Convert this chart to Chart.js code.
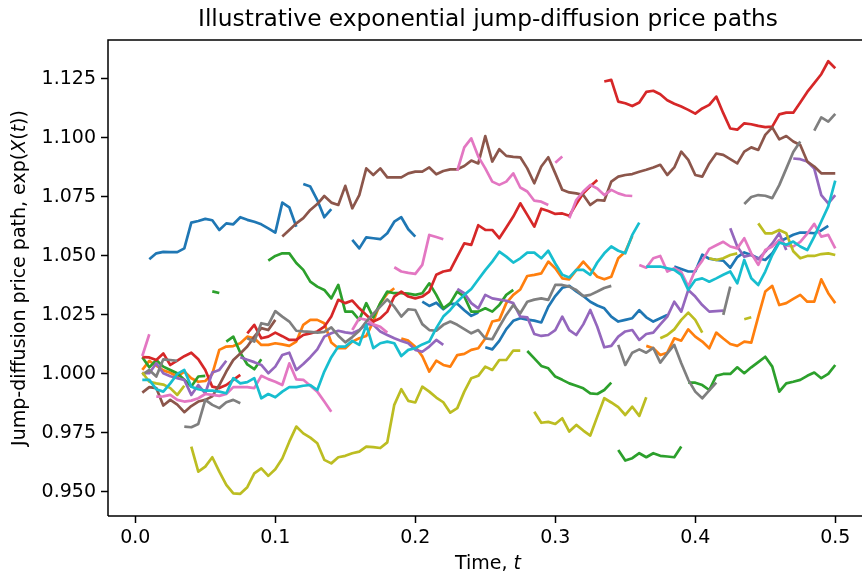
<!DOCTYPE html>
<html>
<head>
<meta charset="utf-8">
<script src="https://cdn.jsdelivr.net/npm/chart.js@4/dist/chart.umd.min.js"></script>
<style>
  html, body { margin: 0; padding: 0; background: #ffffff; overflow: hidden; }
  canvas { display: block; }
</style>
</head>
<body>
<canvas id="chart" width="862" height="579"></canvas>
<script>
// Simulated exponential jump-diffusion paths, sampled every DT on t = 0.005 ... 0.5.
// Each path has one value per step; a path is split into segments at its jumps,
// and *Breaks lists the step index (1-based) where each new segment begins.
const TITLE = 'Illustrative exponential jump-diffusion price paths';
const X_LABEL = [['Time, ', false], ['t', true]];
const Y_LABEL = [['Jump-diffusion price path, exp(', false], ['X', true], ['(', false], ['t', true], ['))', false]];
const DT = 0.005;
const xTicks = [0.0, 0.1, 0.2, 0.3, 0.4, 0.5];
const yTicks = [0.950, 0.975, 1.000, 1.025, 1.050, 1.075, 1.100, 1.125];

const path1 = [
  null, 1.0486, 1.0511, 1.0517, 1.0516, 1.0516, 1.0532, 1.0641, 1.0648, 1.0657,
  1.0651, 1.0610, 1.0638, 1.0634, 1.0664, 1.0653, 1.0645, 1.0634, 1.0617, 1.0599,
  1.0726, 1.0706, 1.0624, 1.0805, 1.0794, 1.0737, 1.0664, 1.0698, null, null,
  1.0568, 1.0532, 1.0579, 1.0575, 1.0571, 1.0596, 1.0645, 1.0664, 1.0613, 1.0582,
  1.0306, 1.0288, 1.0302, 1.0274, 1.0297, 1.0297, 1.0270, 1.0246, 1.0260, 1.0113,
  1.0104, 1.0140, 1.0190, 1.0225, 1.0236, 1.0230, 1.0226, 1.0218, 1.0285, 1.0330,
  1.0365, 1.0373, 1.0350, 1.0330, 1.0306, 1.0290, 1.0278, 1.0243, 1.0222, 1.0229,
  1.0236, 1.0270, 1.0240, 1.0222, 1.0236, 1.0250, 1.0455, 1.0445, 1.0434, 1.0434,
  1.0505, 1.0488, 1.0483, 1.0480, 1.0450, 1.0495, 1.0515, 1.0504, 1.0490, 1.0483,
  1.0511, 1.0560, 1.0575, 1.0590, 1.0599, 1.0599, 1.0596, 1.0608, 1.0627, null
];
const path1Breaks = [24, 31, 41, 50, 77];

const path2 = [
  1.0017, 1.0055, 1.0035, 1.0015, 1.0005, 0.9989, 1.0010, 0.9982, 0.9967, 0.9970,
  1.0000, 1.0102, 1.0116, 1.0118, 1.0130, 1.0158, 1.0151, 1.0123, 1.0123, 1.0130,
  1.0125, 1.0119, 1.0137, 1.0208, 1.0229, 1.0229, 1.0215, 1.0133, 1.0109, 1.0109,
  1.0137, 1.0151, 1.0161, 1.0222, 1.0300, 1.0340, 1.0363, 1.0150, 1.0141, 1.0115,
  1.0075, 1.0010, 1.0056, 1.0038, 1.0031, 1.0080, 1.0085, 1.0102, 1.0109, 1.0150,
  1.0222, 1.0229, 1.0300, 1.0335, 1.0358, 1.0415, 1.0420, 1.0426, 1.0476, 1.0448,
  1.0405, 1.0401, 1.0440, 1.0476, 1.0443, 1.0412, 1.0401, 1.0412, 1.0490, 1.0518,
  1.0585, null, 1.0119, 1.0109, 1.0080, 1.0090, 1.0151, 1.0141, 1.0189, 1.0158,
  1.0137, 1.0109, 1.0175, 1.0150, 1.0127, 1.0119, 1.0137, 1.0133, 1.0243, 1.0349,
  1.0373, 1.0292, 1.0300, 1.0318, 1.0335, 1.0306, 1.0306, 1.0401, 1.0342, 1.0300
];
const path2Breaks = [38, 73];

const path3 = [
  1.0071, 1.0028, 1.0059, 1.0031, 1.0017, 1.0003, 0.9975, 0.9947, 0.9989, 0.9992,
  1.0350, 1.0343, 1.0137, 1.0158, 1.0090, 1.0040, 1.0020, 1.0062, 1.0480, 1.0500,
  1.0511, 1.0511, 1.0470, 1.0441, 1.0391, 1.0370, 1.0356, 1.0320, 1.0377, 1.0264,
  1.0264, 1.0229, 1.0300, 1.0240, 1.0300, 1.0349, 1.0342, 1.0342, 1.0340, 1.0335,
  1.0342, 1.0384, 1.0335, 1.0278, 1.0300, 1.0349, 1.0328, 1.0264, 1.0264, 1.0278,
  1.0264, 1.0292, 1.0335, 1.0356, null, 1.0097, 1.0066, 1.0034, 1.0024, 0.9989,
  0.9975, 0.9960, 0.9950, 0.9939, 0.9918, 0.9915, 0.9932, 0.9963, 0.9678, 0.9633,
  0.9643, 0.9664, 0.9647, 0.9664, 0.9653, 0.9650, 0.9647, 0.9692, 0.9963, 0.9963,
  0.9953, 0.9932, 0.9992, 1.0000, 1.0000, 1.0028, 1.0003, 1.0028, 1.0050, 1.0073,
  1.0031, 0.9925, 0.9960, 0.9967, 0.9975, 0.9992, 1.0006, 0.9982, 1.0000, 1.0038
];
const path3Breaks = [11, 13, 19, 56, 69, 79];

const path4 = [
  1.0071, 1.0070, 1.0059, 1.0087, 1.0038, 1.0056, 1.0075, 1.0090, 1.0062, 1.0017,
  0.9946, 0.9940, 0.9953, 0.9975, 0.9996, 1.0172, 1.0208, 1.0151, 1.0158, 1.0175,
  1.0160, 1.0144, 1.0144, 1.0165, 1.0172, 1.0180, 1.0200, 1.0243, 1.0314, 1.0300,
  1.0311, 1.0278, 1.0250, 1.0222, 1.0236, 1.0264, 1.0328, 1.0349, 1.0328, 1.0320,
  1.0328, 1.0349, 1.0420, 1.0434, 1.0440, 1.0497, 1.0553, 1.0547, 1.0630, 1.0610,
  1.0610, 1.0575, 1.0620, 1.0667, 1.0723, 1.0674, 1.0624, 1.0700, 1.0690, 1.0678,
  1.0680, 1.0670, 1.0720, 1.0766, 1.0795, 1.0822, 1.1239, 1.1246, 1.1154, 1.1147,
  1.1135, 1.1150, 1.1195, 1.1200, 1.1185, 1.1160, 1.1145, 1.1133, 1.1119, 1.1103,
  1.1125, 1.1140, 1.1175, 1.1105, 1.1040, 1.1035, 1.1062, 1.1058, 1.1051, 1.1046,
  1.1048, 1.1100, 1.1107, 1.1107, 1.1150, 1.1195, 1.1232, 1.1270, 1.1325, 1.1295
];
const path4Breaks = [16, 67];

const path5 = [
  1.0003, 1.0003, 1.0045, 1.0003, 0.9990, 0.9982, 0.9975, 0.9911, 0.9953, 0.9918,
  1.0006, 1.0017, 1.0056, null, 1.0071, 1.0060, 1.0050, 1.0038, 1.0003, 1.0031,
  1.0080, 1.0090, 1.0017, 1.0042, 1.0071, 1.0104, 1.0158, 1.0172, 1.0183, 1.0176,
  1.0172, 1.0186, 1.0212, 1.0208, 1.0180, 1.0165, 1.0151, 1.0140, 1.0130, 1.0102,
  1.0094, 1.0116, 1.0144, 1.0123, null, 1.0360, 1.0342, 1.0300, 1.0278, 1.0335,
  1.0320, 1.0315, 1.0310, 1.0300, 1.0243, 1.0240, 1.0169, 1.0161, 1.0165, 1.0186,
  1.0243, 1.0186, 1.0165, 1.0210, 1.0271, 1.0200, 1.0113, 1.0119, 1.0158, 1.0180,
  1.0186, 1.0144, 1.0169, 1.0175, 1.0210, 1.0243, 1.0306, 1.0264, 1.0356, 1.0328,
  1.0292, 1.0264, 1.0266, 1.0268, 1.0617, 1.0540, 1.0497, 1.0504, 1.0486, 1.0518,
  1.0553, 1.0596, 1.0525, 1.0913, 1.0910, 1.0900, 1.0870, 1.0758, 1.0723, 1.0758
];
const path5Breaks = [15, 46, 85, 94];

const path6 = [
  0.9921, 0.9944, 0.9940, 0.9866, 0.9890, 0.9870, 0.9838, 0.9864, 0.9883, 0.9890,
  0.9905, 0.9953, 1.0010, 1.0059, 1.0087, 1.0116, 1.0158, 1.0194, 1.0186, 1.0229,
  1.0582, 1.0610, 1.0638, 1.0660, 1.0695, 1.0720, 1.0754, 1.0726, 1.0716, 1.0797,
  1.0702, 1.0758, 1.0871, 1.0843, 1.0871, 1.0833, 1.0833, 1.0833, 1.0850, 1.0857,
  1.0857, 1.0875, 1.0846, 1.0860, 1.0867, 1.0867, 1.0881, 1.0904, 1.0892, 1.1008,
  1.0900, 1.0952, 1.0924, 1.0920, 1.0918, 1.0871, 1.0808, 1.0879, 1.0918, 1.0850,
  1.0780, 1.0769, 1.0765, 1.0758, 1.0716, 1.0737, 1.0734, 1.0815, 1.0836, 1.0843,
  1.0847, 1.0857, 1.0865, 1.0875, 1.0886, 1.0843, 1.0875, 1.0942, 1.0907, 1.0843,
  1.0836, 1.0892, 1.0934, 1.0928, 1.0910, 1.0892, 1.0942, 1.0960, 1.0949, 1.1013,
  1.1045, 1.0994, 1.1008, 1.0985, 1.0970, 1.0900, 1.0879, 1.0850, 1.0850, 1.0850
];
const path6Breaks = [21];

const path7 = [
  1.0076, 1.0168, 0.9904, 0.9905, 0.9911, 0.9890, 0.9883, 0.9887, 0.9897, 0.9915,
  0.9911, 0.9907, 0.9915, 0.9944, 0.9944, 0.9944, 0.9940, 0.9992, 0.9978, 0.9967,
  0.9953, 1.0045, 0.9977, 0.9975, 0.9950, 0.9925, 0.9883, 0.9840, null, null,
  1.0186, 1.0236, 1.0229, 1.0210, 1.0200, 1.0175, 1.0452, 1.0434, 1.0428, 1.0424,
  1.0462, 1.0589, 1.0580, 1.0571, null, 1.0861, 1.0960, 1.0998, 1.0921, 1.0871,
  1.0815, 1.0801, 1.0815, 1.0850, 1.0790, 1.0773, 1.0734, 1.0730, 1.0716, 1.0895,
  1.0921, 1.0660, 1.0737, 1.0773, 1.0801, 1.0786, 1.0758, 1.0780, 1.0765, 1.0756,
  1.0754, 1.0462, 1.0450, 1.0490, 1.0500, 1.0434, 1.0448, 1.0432, 1.0370, 1.0440,
  1.0480, 1.0530, 1.0545, 1.0560, 1.0540, 1.0532, 1.0575, 1.0511, 1.0462, 1.0525,
  1.0540, 1.0568, 1.0545, 1.0540, 1.0560, 1.0595, 1.0636, 1.0582, 1.0589, 1.0532
];
const path7Breaks = [3, 31, 37, 46, 60, 62, 72];

const path8 = [
  0.9996, 1.0017, 0.9989, 1.0062, 1.0059, 1.0055, 0.9777, 0.9774, 0.9788, 0.9890,
  0.9869, 0.9855, 0.9880, 0.9890, 0.9876, 1.0151, 1.0137, 1.0215, 1.0208, 1.0266,
  1.0243, 1.0222, 1.0183, 1.0180, 1.0178, 1.0175, 1.0178, 1.0197, 1.0162, 1.0134,
  1.0156, 1.0183, 1.0222, 1.0255, 1.0285, 1.0316, 1.0285, 1.0243, 1.0274, 1.0271,
  1.0211, 1.0186, 1.0183, 1.0208, 1.0222, 1.0208, 1.0190, 1.0172, 1.0186, 1.0151,
  1.0147, 1.0200, 1.0250, 1.0292, 1.0257, 1.0306, 1.0315, 1.0320, 1.0314, 1.0377,
  1.0377, 1.0370, 1.0356, 1.0330, 1.0335, 1.0349, 1.0364, 1.0373, 1.0123, 1.0038,
  1.0090, 1.0104, 1.0090, 1.0110, 1.0048, 1.0087, 1.0123, 1.0045, 0.9975, 0.9925,
  0.9897, 0.9930, 0.9963, 1.0250, 1.0370, null, 1.0720, 1.0750, 1.0758, 1.0755,
  1.0745, 1.0800, 1.0870, 1.0940, 1.0985, null, 1.1031, 1.1087, 1.1069, 1.1102
];
const path8Breaks = [7, 16, 69, 84, 87, 97];

const path9 = [
  1.0006, 0.9967, 0.9960, 0.9955, 0.9940, 0.9911, 0.9950, 0.9692, 0.9586, 0.9607,
  0.9647, 0.9586, 0.9530, 0.9494, 0.9492, 0.9520, 0.9579, 0.9600, 0.9568, 0.9596,
  0.9642, 0.9713, 0.9777, 0.9748, 0.9730, 0.9706, 0.9636, 0.9621, 0.9647, 0.9653,
  0.9664, 0.9671, 0.9692, 0.9690, 0.9686, 0.9710, 0.9869, 0.9935, 0.9886, 0.9879,
  0.9946, 0.9925, 0.9900, 0.9880, 0.9836, 0.9855, 0.9925, 0.9982, 0.9992, 1.0031,
  1.0017, 1.0059, 1.0059, 1.0099, 1.0099, null, 0.9840, 0.9793, 0.9797, 0.9788,
  0.9812, 0.9756, 0.9784, 0.9760, 0.9739, 0.9819, 0.9897, 0.9879, 0.9859, 0.9826,
  0.9861, 0.9822, 0.9901, null, 1.0151, 1.0165, 1.0189, 1.0229, 1.0260, 1.0229,
  1.0175, 1.0490, 1.0483, 1.0490, 1.0504, 1.0511, 1.0232, 1.0240, 1.0638, 1.0596,
  1.0596, 1.0610, 1.0596, 1.0520, 1.0490, 1.0500, 1.0500, 1.0508, 1.0511, 1.0504
];
const path9Breaks = [8, 57, 75, 82, 87, 89];

const path10 = [
  0.9975, 0.9975, 0.9935, 0.9925, 0.9960, 1.0000, 1.0017, 0.9946, 0.9935, 0.9929,
  0.9929, 0.9925, 0.9918, 0.9982, 0.9960, 0.9965, 0.9982, 0.9897, 0.9915, 0.9901,
  0.9925, 0.9944, 0.9944, 0.9950, 0.9953, 0.9932, 1.0010, 1.0071, 1.0116, 1.0116,
  1.0140, 1.0123, 1.0208, 1.0109, 1.0130, 1.0137, 1.0130, 1.0076, 1.0102, 1.0109,
  1.0125, 1.0137, 1.0194, 1.0243, 1.0271, 1.0306, 1.0335, 1.0360, 1.0400, 1.0440,
  1.0476, 1.0518, 1.0497, 1.0472, 1.0490, 1.0514, 1.0514, 1.0490, 1.0522, 1.0468,
  1.0420, 1.0409, 1.0441, 1.0441, 1.0420, 1.0472, 1.0511, 1.0540, 1.0522, 1.0511,
  1.0589, 1.0641, 1.0455, 1.0455, 1.0455, 1.0448, 1.0441, 1.0420, 1.0356, 1.0398,
  1.0405, 1.0391, 1.0405, 1.0420, 1.0434, 1.0384, 1.0483, 1.0405, 1.0377, 1.0434,
  1.0504, 1.0557, 1.0547, 1.0561, 1.0540, 1.0525, 1.0582, 1.0646, 1.0710, 1.0819
];
const path10Breaks = [73];

const pathValues = [path1, path2, path3, path4, path5, path6, path7, path8, path9, path10];
const pathBreaks = [path1Breaks, path2Breaks, path3Breaks, path4Breaks, path5Breaks,
                    path6Breaks, path7Breaks, path8Breaks, path9Breaks, path10Breaks];
const palette = ['#1f77b4', '#ff7f0e', '#2ca02c', '#d62728', '#9467bd',
                 '#8c564b', '#e377c2', '#7f7f7f', '#bcbd22', '#17becf'];

// Turn one path into {x, y} points; a null point half a step before each
// segment start keeps the line from bridging the jump.
function toPoints(values, breaks) {
  const pts = [];
  values.forEach((v, k) => {
    const i = k + 1;
    if (breaks.includes(i)) pts.push({ x: (i - 0.5) * DT, y: null });
    pts.push({ x: i * DT, y: v });
  });
  return pts;
}

const FONT = '"DejaVu Sans", "Liberation Sans", sans-serif';

// Draw a run of text pieces, some in italic, centred on (x, y).
function drawRich(ctx, parts, x, y, size, angle) {
  ctx.save();
  ctx.translate(x, y);
  ctx.rotate(angle);
  ctx.textBaseline = 'middle';
  ctx.textAlign = 'left';
  ctx.fillStyle = '#000';
  const fonts = parts.map(p => (p[1] ? 'italic ' : '') + size + 'px ' + FONT);
  let total = 0;
  const widths = parts.map((p, k) => { ctx.font = fonts[k]; const w = ctx.measureText(p[0]).width; total += w; return w; });
  let cx = -total / 2;
  parts.forEach((p, k) => { ctx.font = fonts[k]; ctx.fillText(p[0], cx, 0); cx += widths[k]; });
  ctx.restore();
}

const framePlugin = {
  id: 'frame',
  afterDraw(chart) {
    const { ctx, chartArea: a } = chart;
    ctx.save();
    ctx.strokeStyle = '#000';
    ctx.lineWidth = 1.5;
    ctx.beginPath();
    ctx.moveTo(a.left, a.bottom);
    ctx.lineTo(a.left, a.top);
    ctx.lineTo(a.right + 2, a.top);
    ctx.moveTo(a.left, a.bottom);
    ctx.lineTo(a.right + 2, a.bottom);
    ctx.stroke();
    ctx.restore();
    const midX = 488;
    ctx.save();
    ctx.font = '23.3px ' + FONT;
    ctx.fillStyle = '#000';
    ctx.textAlign = 'center';
    ctx.textBaseline = 'middle';
    ctx.fillText(TITLE, midX, 20);
    ctx.restore();
    drawRich(ctx, X_LABEL, midX, 564, 19, 0);
    drawRich(ctx, Y_LABEL, 20, (a.top + a.bottom) / 2, 19, -Math.PI / 2);
  }
};

const datasets = pathValues.map((vals, k) => ({
  label: 'path ' + (k + 1),
  data: toPoints(vals, pathBreaks[k]),
  borderColor: palette[k],
  backgroundColor: palette[k],
  borderWidth: 2.7,
  borderJoinStyle: 'round',
  borderCapStyle: 'butt',
  pointRadius: 0,
  tension: 0,
  spanGaps: false,
  fill: false,
  order: pathValues.length - k
}));

const tickStyle = { color: '#000', font: { family: FONT, size: 19 } };

new Chart(document.getElementById('chart'), {
  type: 'line',
  data: { datasets },
  plugins: [framePlugin],
  options: {
    responsive: false,
    animation: false,
    devicePixelRatio: 1,
    layout: { padding: { top: 40, left: 0, right: 0, bottom: 0 } },
    plugins: { legend: { display: false }, tooltip: { enabled: false }, title: { display: false } },
    scales: {
      x: {
        type: 'linear',
        min: -0.0195,
        max: 0.5191,
        afterFit: s => { s.height = 63; },
        afterBuildTicks: s => { s.ticks = xTicks.map(v => ({ value: v })); },
        ticks: { ...tickStyle, padding: 4, maxRotation: 0, callback: v => v.toFixed(1) },
        grid: { drawOnChartArea: false, drawTicks: true, tickLength: 7, tickColor: '#000', tickWidth: 1.5, color: '#000' },
        border: { display: false }
      },
      y: {
        type: 'linear',
        min: 0.9398,
        max: 1.1415,
        afterFit: s => { s.width = 108; },
        afterBuildTicks: s => { s.ticks = yTicks.map(v => ({ value: v })); },
        ticks: { ...tickStyle, padding: 5, callback: v => v.toFixed(3) },
        grid: { drawOnChartArea: false, drawTicks: true, tickLength: 7, tickColor: '#000', tickWidth: 1.5, color: '#000' },
        border: { display: false }
      }
    }
  }
});
</script>
</body>
</html>
